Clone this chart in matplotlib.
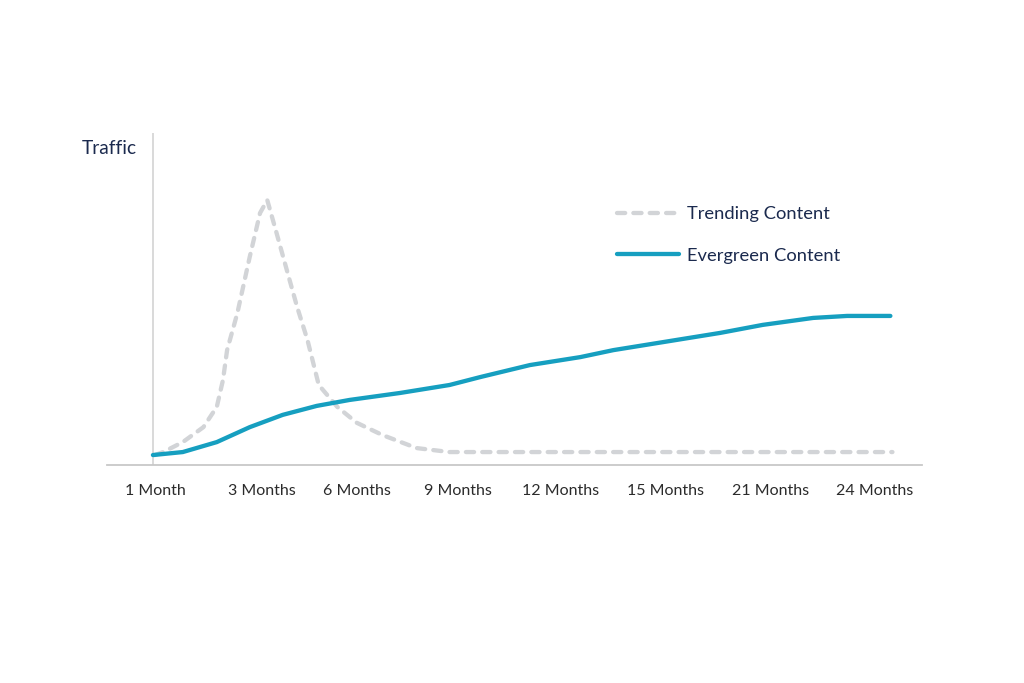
import matplotlib.pyplot as plt

plt.rcParams['font.family'] = ['Lato', 'DejaVu Sans']

# x positions are in "tick index" units (0 = 1 Month ... ~7 = 24 Months)
month_labels = ['1 Month', '3 Months', '6 Months', '9 Months',
                '12 Months', '15 Months', '21 Months', '24 Months']
month_pos = [0, 1.04, 1.96, 2.94, 3.94, 4.96, 5.98, 6.99]

trend_x = [0.00, 0.08, 0.27, 0.47, 0.60, 0.66, 0.70, 0.80, 0.92, 1.02,
           1.09, 1.18, 1.28, 1.38, 1.48, 1.59, 1.77, 1.96, 2.21, 2.54,
           2.86, 7.16]
trend_y = [3.0, 3.9, 6.9, 11.4, 17.5, 25.6, 34.6, 45.8, 62.7, 75.9,
           79.8, 69.9, 58.7, 47.6, 37.7, 24.1, 17.5, 12.7, 9.0, 5.1,
           3.9, 3.9]

ever_x = [-0.02, 0.27, 0.60, 0.92, 1.24, 1.57, 1.89, 2.38, 2.86, 3.16,
          3.64, 4.13, 4.45, 4.93, 5.49, 5.90, 6.39, 6.72, 7.14]
ever_y = [3.0, 3.9, 6.9, 11.4, 15.1, 17.8, 19.6, 21.7, 24.1, 26.5,
          30.1, 32.5, 34.6, 37.0, 39.8, 42.2, 44.3, 44.9, 44.9]

teal = '#169fc0'
grey = '#d2d4d7'
navy = '#1b2a4e'

fig = plt.figure(figsize=(10.24, 6.83), dpi=100)
ax = fig.add_axes([107/1024, 1-465/683, (922-107)/1024, (465-133)/683])

ax.plot(trend_x, trend_y, color=grey, lw=3.1, ls=(0, (1.9, 1.9)),
        dash_capstyle='round', solid_capstyle='round',
        label='Trending Content')
ax.plot(ever_x, ever_y, color=teal, lw=3.1, solid_capstyle='round',
        solid_joinstyle='round', label='Evergreen Content')

ax.set_xlim(-0.466, 7.447)
ax.set_ylim(0, 100)
ax.axvline(-0.02, color='#d0d0d0', lw=1.1, zorder=0)

for s in ['top', 'right', 'left']:
    ax.spines[s].set_visible(False)
ax.spines['bottom'].set_color('#c8c8c8')
ax.spines['bottom'].set_linewidth(1.3)

ax.set_xticks(month_pos)
ax.set_xticklabels(month_labels, fontsize=11.5, color='#2b2b2b')
ax.tick_params(axis='x', length=0, pad=13.5)
ax.set_yticks([])

fig.text(82/1024, 1-149/683, 'Traffic', fontsize=13.8, color=navy,
         ha='left', va='center')

ax.legend(loc='center left', bbox_to_anchor=(617/1024, 1-235/683),
          bbox_transform=fig.transFigure, frameon=False, fontsize=13.2,
          handlelength=3.4, handletextpad=0.4, labelspacing=1.38,
          borderpad=0, borderaxespad=0, labelcolor=navy)

fig.savefig('out.png', dpi=100)
